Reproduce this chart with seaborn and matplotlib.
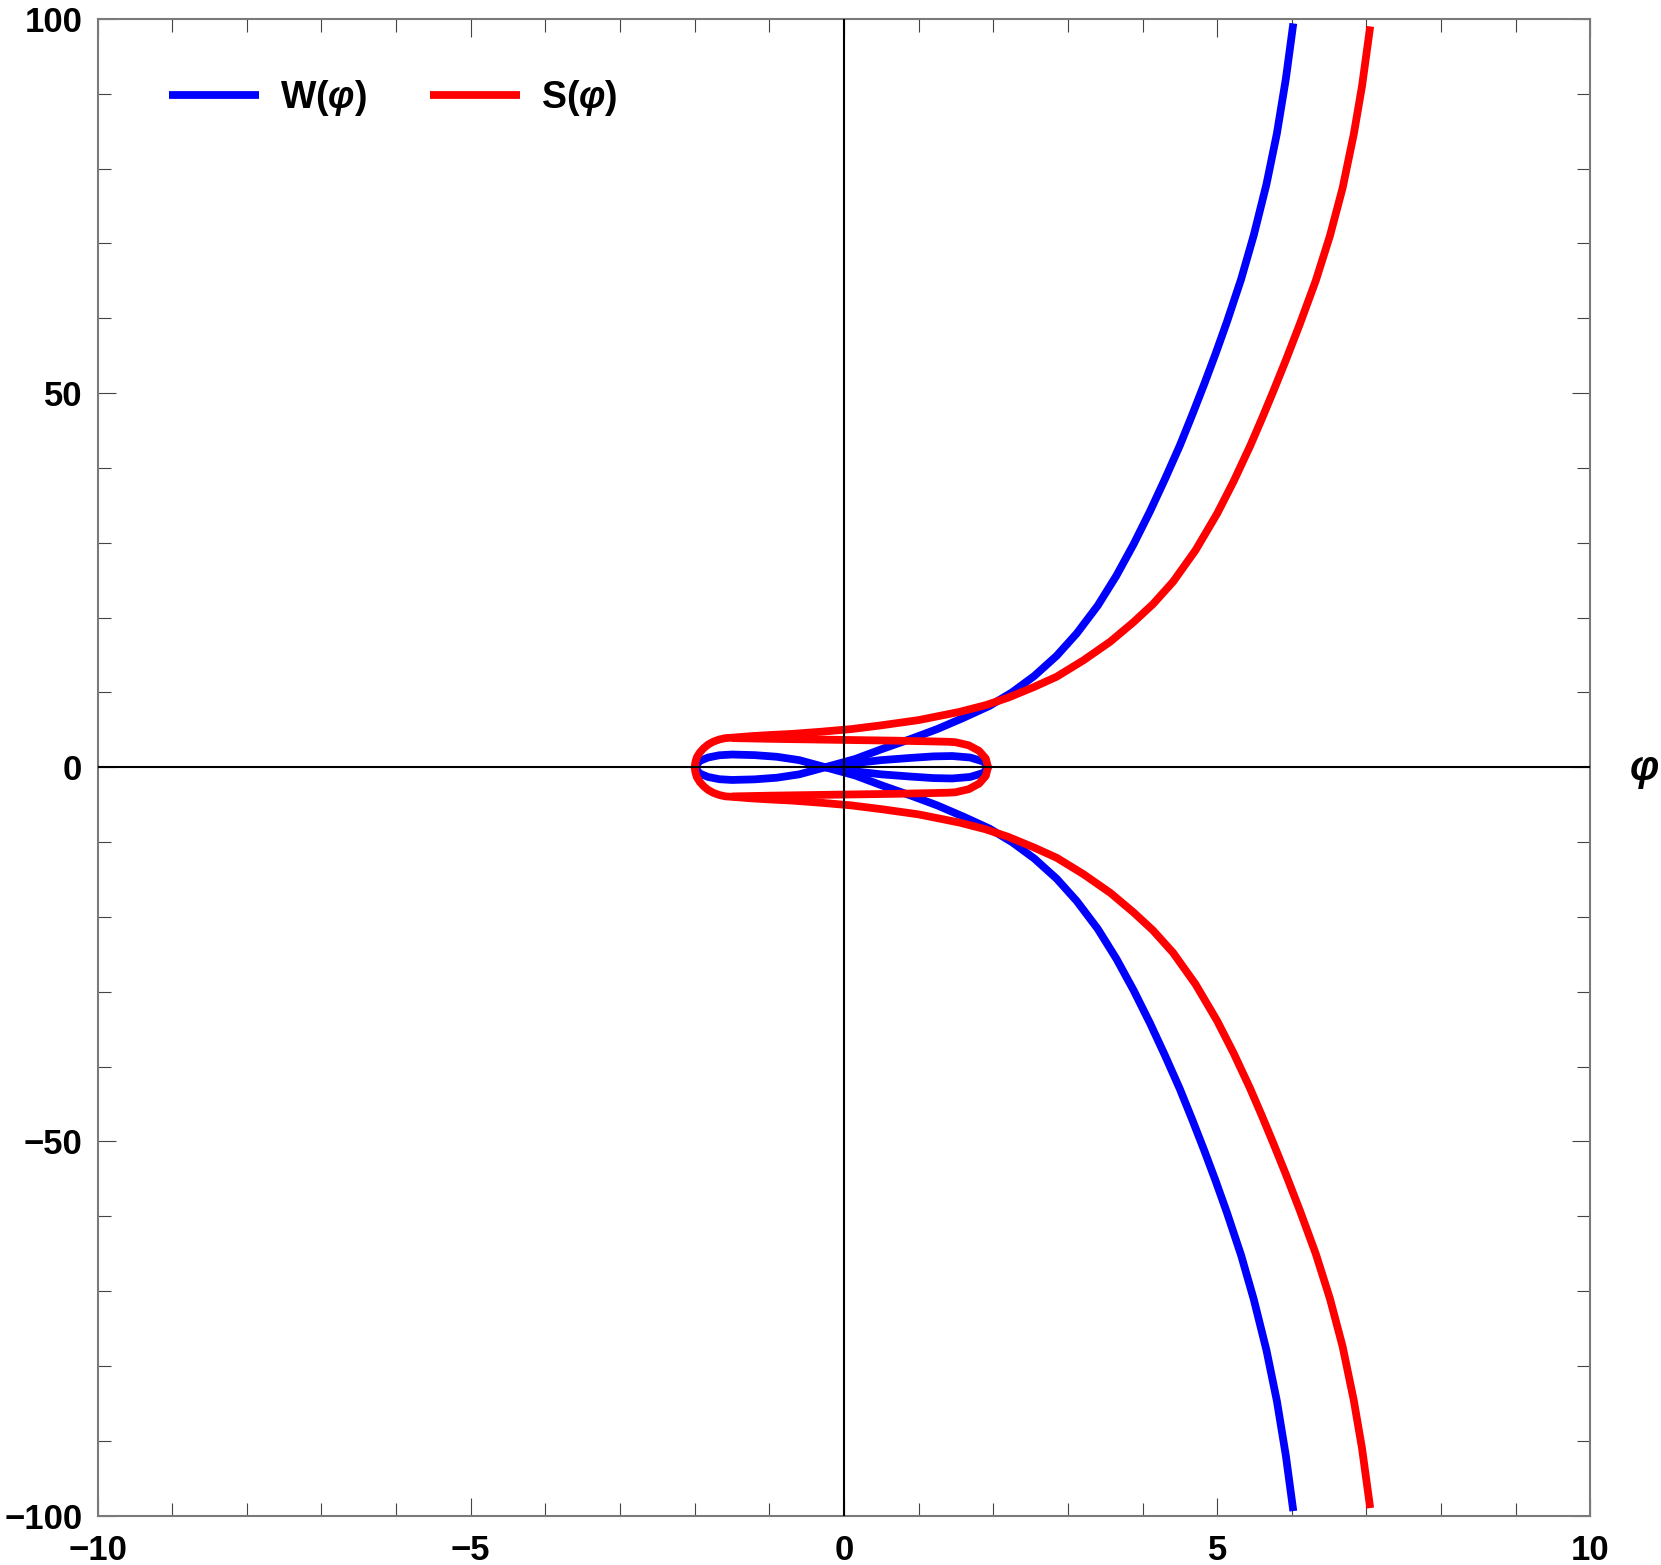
# W(phi) and S(phi) curves, redrawn from a Mathematica-style figure

import numpy as np
import pandas as pd
import matplotlib
matplotlib.use('Agg')
import matplotlib.pyplot as plt
import matplotlib.transforms as mtransforms
from matplotlib.ticker import MultipleLocator
import seaborn as sns

# blue curve W: upper branch, left lobe, lower branch (one path)
w_outer_x = [6.02, 5.92, 5.80, 5.66, 5.49, 5.32, 5.13, 4.98, 4.83, 4.67, 4.50, 4.30, 4.10, 3.88,
             3.65, 3.40, 3.12, 2.85, 2.55, 2.25, 1.95, 1.60, 1.25, 0.90, 0.50, 0.15, -0.25,
             -0.60, -0.90, -1.20, -1.50, -1.67, -1.82, -1.93, -2.00,
             -1.93, -1.82, -1.67, -1.50, -1.20, -0.90, -0.60, -0.25,
             0.15, 0.50, 0.90, 1.25, 1.60, 1.95, 2.25, 2.55, 2.85, 3.12, 3.40, 3.65, 3.88,
             4.10, 4.30, 4.50, 4.67, 4.83, 4.98, 5.13, 5.32, 5.49, 5.66, 5.80, 5.92, 6.02]
w_outer_y = [99.4, 92.0, 84.7, 77.9, 71.1, 65.2, 59.5, 55.3, 51.3, 47.2, 43.0, 38.5, 34.2, 29.8,
             25.6, 21.6, 17.9, 14.9, 12.2, 10.0, 8.2, 6.6, 5.1, 3.8, 2.4, 1.1, 0.0,
             -0.95, -1.4, -1.62, -1.7, -1.6, -1.3, -0.85, 0.0,
             0.85, 1.3, 1.6, 1.7, 1.62, 1.4, 0.95, 0.0,
             -1.1, -2.4, -3.8, -5.1, -6.6, -8.2, -10.0, -12.2, -14.9, -17.9, -21.6, -25.6, -29.8,
             -34.2, -38.5, -43.0, -47.2, -51.3, -55.3, -59.5, -65.2, -71.1, -77.9, -84.7, -92.0, -99.4]
# blue curve W: right lobe
w_lobe_x = [-0.25, 0.10, 0.50, 0.90, 1.20, 1.45, 1.69, 1.87, 1.93,
            1.87, 1.69, 1.45, 1.20, 0.90, 0.50, 0.10, -0.25]
w_lobe_y = [0.0, 0.5, 0.95, 1.25, 1.45, 1.5, 1.3, 0.75, 0.0,
            -0.75, -1.3, -1.5, -1.45, -1.25, -0.95, -0.5, 0.0]

# red curve S: upper branch, round left end, lower branch
s_outer_x = [7.05, 6.94, 6.83, 6.68, 6.51, 6.32, 6.11, 5.92, 5.75, 5.60, 5.44, 5.22, 5.00, 4.71,
             4.41, 4.14, 3.88, 3.57, 3.21, 2.85, 2.54, 2.20, 1.90, 1.55, 1.25, 1.00, 0.50, 0.10,
             -0.30, -0.70, -1.00, -1.25, -1.50, -1.59, -1.67, -1.75, -1.82, -1.88, -1.93, -1.97,
             -1.99, -2.00,
             -1.99, -1.97, -1.93, -1.88, -1.82, -1.75, -1.67, -1.59, -1.50, -1.25, -1.00, -0.70,
             -0.30, 0.10, 0.50, 1.00, 1.25, 1.55, 1.90, 2.20, 2.54, 2.85, 3.21, 3.57, 3.88, 4.14,
             4.41, 4.71, 5.00, 5.22, 5.44, 5.60, 5.75, 5.92, 6.11, 6.32, 6.51, 6.68, 6.83, 6.94, 7.05]
s_outer_y = [99.0, 91.0, 84.6, 77.4, 71.0, 65.0, 59.3, 54.4, 50.2, 46.6, 42.9, 38.2, 33.9, 29.0,
             24.8, 21.8, 19.4, 16.8, 14.3, 12.1, 10.7, 9.3, 8.3, 7.4, 6.8, 6.3, 5.6, 5.1,
             4.75, 4.45, 4.3, 4.15, 3.95, 3.89, 3.71, 3.42, 3.03, 2.54, 1.98, 1.35,
             0.69, 0.0,
             -0.69, -1.35, -1.98, -2.54, -3.03, -3.42, -3.71, -3.89, -3.95, -4.15, -4.3, -4.45,
             -4.75, -5.1, -5.6, -6.3, -6.8, -7.4, -8.3, -9.3, -10.7, -12.1, -14.3, -16.8, -19.4, -21.8,
             -24.8, -29.0, -33.9, -38.2, -42.9, -46.6, -50.2, -54.4, -59.3, -65.0, -71.0, -77.4, -84.6, -91.0, -99.0]
# red curve S: inner loop closing on the right
s_loop_x = [-1.50, -1.00, 0.00, 0.70, 1.20, 1.40, 1.49, 1.67, 1.81, 1.90, 1.93,
            1.90, 1.81, 1.67, 1.49, 1.40, 1.20, 0.70, 0.00, -1.00, -1.50]
s_loop_y = [3.9, 3.8, 3.65, 3.55, 3.45, 3.4, 3.35, 2.94, 2.19, 1.16, 0.0,
            -1.16, -2.19, -2.94, -3.35, -3.4, -3.45, -3.55, -3.65, -3.8, -3.9]

w_label = r'W($\mathbfit{\varphi}$)'
s_label = r'S($\mathbfit{\varphi}$)'

xticks = [-10, -5, 0, 5, 10]
yticks = [-100, -50, 0, 50, 100]

# long table, one row per point, keep the drawing order
parts = [(w_label, 'w1', w_outer_x, w_outer_y),
         (w_label, 'w2', w_lobe_x, w_lobe_y),
         (s_label, 's1', s_outer_x, s_outer_y),
         (s_label, 's2', s_loop_x, s_loop_y)]
frames = []
for curve, seg, xs, ys in parts:
    frames.append(pd.DataFrame({'x': xs, 'y': ys, 'curve': curve, 'seg': seg}))
df = pd.concat(frames, ignore_index=True)

sns.set_style('ticks')
plt.rcParams['font.family'] = ['Liberation Sans', 'DejaVu Sans']
plt.rcParams['mathtext.fontset'] = 'custom'
plt.rcParams['mathtext.bfit'] = 'Liberation Sans:italic:bold'
plt.rcParams['mathtext.rm'] = 'Liberation Sans:bold'
plt.rcParams['text.color'] = 'black'
plt.rcParams['xtick.labelcolor'] = 'black'
plt.rcParams['ytick.labelcolor'] = 'black'

fig = plt.figure(figsize=(16.61, 15.65), dpi=100)
ax = fig.add_axes([0.0587, 0.0316, 0.8988, 0.9563])

sns.lineplot(data=df, x='x', y='y', hue='curve', units='seg', estimator=None, sort=False,
             hue_order=[w_label, s_label], palette={w_label: '#0000ff', s_label: '#ff0000'},
             linewidth=5.6, ax=ax)
for line in ax.get_lines():
    line.set_solid_capstyle('butt')
    line.set_solid_joinstyle('round')

# axes through the origin, drawn over the curves
ax.axhline(0, color='black', lw=1.5, zorder=5)
ax.axvline(0, color='black', lw=1.5, zorder=5)

ax.set_xlim(-10, 10)
ax.set_ylim(-100, 100)
ax.set_xticks(xticks)
ax.set_yticks(yticks)
ax.set_xticklabels(['\u2212' + str(abs(t)) if t < 0 else str(t) for t in xticks])
ax.set_yticklabels(['\u2212' + str(abs(t)) if t < 0 else str(t) for t in yticks])
ax.xaxis.set_minor_locator(MultipleLocator(1))
ax.yaxis.set_minor_locator(MultipleLocator(10))
ax.tick_params(which='both', direction='in', top=True, right=True, color='#444444', width=0.8)
ax.tick_params(which='major', length=13)
ax.tick_params(which='minor', length=9.4)
ax.tick_params(axis='x', pad=13, labelsize=25, labelcolor='black')
ax.tick_params(axis='y', pad=11, labelsize=25, labelcolor='black')
for lab in ax.get_xticklabels() + ax.get_yticklabels():
    lab.set_fontweight('bold')
for sp in ax.spines.values():
    sp.set_color('#7a7a7a')
    sp.set_linewidth(1.5)
ax.set_xlabel('')
ax.set_ylabel('')

# phi label at the right end of the horizontal axis
trans = mtransforms.blended_transform_factory(ax.transAxes, ax.transData)
ax.text(1.026, -0.5, r'$\mathbfit{\varphi}$', transform=trans, fontsize=30,
        va='center', ha='left', color='black')

handles, labels = ax.get_legend_handles_labels()
leg = ax.legend(handles, labels, loc='upper left', ncol=2, frameon=False,
                bbox_to_anchor=(0.0255, 0.983), handlelength=2.4,
                handletextpad=0.56, columnspacing=1.67, prop={'weight': 'bold', 'size': 27})
for lh in leg.get_lines():
    lh.set_linewidth(5.6)
    lh.set_solid_capstyle('butt')
for t in leg.get_texts():
    t.set_color('black')

fig.savefig('out.png', dpi=100)
